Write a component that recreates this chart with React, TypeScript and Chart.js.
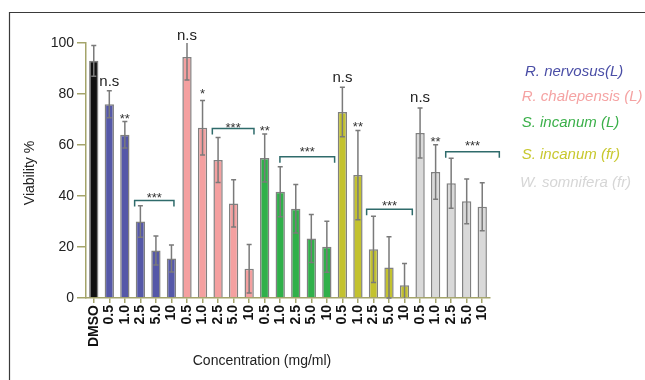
import React, { useEffect, useRef } from "react";
import { Chart, registerables } from "chart.js";

Chart.register(...registerables);

// ---------- data ----------
const concentrations = ["0.5", "1.0", "2.5", "5.0", "10"];
const categories = ["DMSO", ...concentrations, ...concentrations, ...concentrations, ...concentrations, ...concentrations];

const dmsoValue = 93;
const dmsoError = 6;
const nervosusValues = [76, 64, 30, 18.6, 15.5];
const nervosusErrors = [5.3, 5.2, 6.2, 5.7, 5.3];
const chalepensisValues = [94.5, 66.8, 54.1, 37.1, 11.5];
const chalepensisErrors = [9, 10.7, 8.8, 9.3, 9.5];
const incanumLeafValues = [54.9, 41.7, 35, 23.3, 20.1];
const incanumLeafErrors = [9.4, 9.8, 9.5, 9.4, 10];
const incanumFruitValues = [72.9, 48.2, 19.1, 12, 5];
const incanumFruitErrors = [9.7, 17.5, 13, 12, 8.5];
const somniferaValues = [64.7, 49.4, 45, 37.9, 35.8];
const somniferaErrors = [9.8, 10.7, 9.8, 8.8, 9.4];

const seriesNames = ["R. nervosus(L)", "R. chalepensis (L)", "S. incanum (L)", "S. incanum (fr)", "W. somnifera (fr)"];
const seriesColors = ["#5558a8", "#f4a0a0", "#30b04a", "#c3c22f", "#d9d9d9"];
const legendColors = ["#4a4ea6", "#f5a3a3", "#3bb04a", "#c8c82e", "#d6d6d6"];
const dmsoColor = "#111111";

const yTicksMax = 100;
const yStep = 20;

// significance labels: [label, category index, value at label centre]
const sigLabels: [string, number, number][] = [
  ["n.s", 1, 84.7],
  ["**", 2, 71.4],
  ["n.s", 6, 102.7],
  ["*", 7, 81.2],
  ["**", 11, 66.7],
  ["n.s", 16, 86.3],
  ["**", 17, 68.6],
  ["n.s", 21, 78.4],
  ["**", 22, 62.7],
];

// brackets: [from index, to index, line value, label value]
const brackets: [number, number, number, number][] = [
  [2.63, 5.16, 38.2, 40.8],
  [7.63, 10.31, 66.5, 68.2],
  [11.98, 15.5, 55.4, 58.7],
  [17.56, 20.5, 34.8, 37.6],
  [22.65, 26.1, 57.4, 60.9],
];

const values = [dmsoValue, ...nervosusValues, ...chalepensisValues, ...incanumLeafValues, ...incanumFruitValues, ...somniferaValues];
const errors = [dmsoError, ...nervosusErrors, ...chalepensisErrors, ...incanumLeafErrors, ...incanumFruitErrors, ...somniferaErrors];
const barColors = [dmsoColor, ...seriesColors.flatMap((c) => concentrations.map(() => c))];

const FONT = "'Liberation Sans', Arial, sans-serif";
const OLIVE = "#a4a46a";

const overlayPlugin = {
  id: "overlay",
  beforeDraw(chart: any) {
    const ctx = chart.ctx;
    ctx.save();
    ctx.strokeStyle = "#3a3a3a";
    ctx.lineWidth = 1.2;
    ctx.beginPath();
    ctx.moveTo(9.5, chart.height);
    ctx.lineTo(9.5, 12.5);
    ctx.lineTo(chart.width, 12.5);
    ctx.stroke();
    ctx.restore();
  },
  afterDatasetsDraw(chart: any) {
    const ctx = chart.ctx;
    const meta = chart.getDatasetMeta(0);
    const y = chart.scales.y;
    ctx.save();
    ctx.strokeStyle = "#7a7a7a";
    ctx.lineWidth = 1.5;
    meta.data.forEach((bar: any, i: number) => {
      const v = values[i];
      const e = errors[i];
      const top = y.getPixelForValue(Math.min(v + e, yTicksMax));
      const bot = y.getPixelForValue(Math.max(v - e, 0));
      const x = bar.x;
      ctx.beginPath();
      ctx.moveTo(x, top);
      ctx.lineTo(x, bot);
      if (v + e <= yTicksMax) {
        ctx.moveTo(x - 2.5, top);
        ctx.lineTo(x + 2.5, top);
      }
      if (v - e >= 0) {
        ctx.moveTo(x - 2.5, bot);
        ctx.lineTo(x + 2.5, bot);
      }
      ctx.stroke();
    });
    ctx.restore();
  },
  afterDraw(chart: any) {
    const ctx = chart.ctx;
    const x = chart.scales.x;
    const y = chart.scales.y;
    ctx.save();
    // significance labels
    sigLabels.forEach(([label, idx, val]) => {
      const px = x.getPixelForValue(idx);
      const py = y.getPixelForValue(val);
      ctx.textAlign = "center";
      ctx.textBaseline = "alphabetic";
      if (label === "n.s") {
        ctx.font = `15px ${FONT}`;
        ctx.fillStyle = "#222";
        ctx.fillText(label, px, py + 15 * 0.26);
      } else {
        ctx.font = `13px ${FONT}`;
        ctx.fillStyle = "#333";
        ctx.fillText(label, px, py + 13 * 0.58);
      }
    });
    // brackets
    ctx.strokeStyle = "#2f6b6b";
    ctx.lineWidth = 1.5;
    brackets.forEach(([from, to, lineVal, labelVal]) => {
      const x1 = x.getPixelForValue(from);
      const x2 = x.getPixelForValue(to);
      const ly = y.getPixelForValue(lineVal);
      ctx.beginPath();
      ctx.moveTo(x1, ly + 6);
      ctx.lineTo(x1, ly);
      ctx.lineTo(x2, ly);
      ctx.lineTo(x2, ly + 6);
      ctx.stroke();
      ctx.font = `13px ${FONT}`;
      ctx.fillStyle = "#333";
      ctx.textAlign = "center";
      ctx.textBaseline = "alphabetic";
      ctx.fillText("***", (x1 + x2) / 2, y.getPixelForValue(labelVal) + 13 * 0.58);
    });
    // legend
    const legendX = [525, 521.7, 521.7, 521.7, 520];
    const legendY = [71.7, 96.7, 123.3, 155, 183.3];
    ctx.font = `italic 15px ${FONT}`;
    ctx.textAlign = "left";
    ctx.textBaseline = "middle";
    seriesNames.forEach((name, i) => {
      ctx.fillStyle = legendColors[i];
      ctx.fillText(name, legendX[i], legendY[i]);
    });
    // axis titles
    ctx.fillStyle = "#222";
    ctx.font = `14px ${FONT}`;
    ctx.textAlign = "center";
    ctx.textBaseline = "middle";
    ctx.fillText("Concentration (mg/ml)", 262, 361);
    ctx.translate(30, 173);
    ctx.rotate(-Math.PI / 2);
    ctx.fillText("Viability %", 0, 0);
    ctx.restore();
  },
};

export default function App() {
  const ref = useRef<HTMLCanvasElement | null>(null);
  useEffect(() => {
    document.body.style.margin = "0";
    const chart = new Chart(ref.current as HTMLCanvasElement, {
      type: "bar",
      data: {
        labels: categories,
        datasets: [
          {
            data: values,
            backgroundColor: barColors,
            borderColor: "#808080",
            borderWidth: 1.5,
            barPercentage: 0.6,
            categoryPercentage: 1,
          },
        ],
      },
      options: {
        animation: false,
        responsive: true,
        maintainAspectRatio: false,
        layout: { padding: { left: 0, right: 155, top: 43, bottom: 0 } },
        plugins: { legend: { display: false }, tooltip: { enabled: false } },
        scales: {
          x: {
            afterFit: (s: any) => {
              s.height = 82;
            },
            grid: { display: true, drawOnChartArea: false, drawTicks: true, tickLength: 5, color: OLIVE, lineWidth: 1.5, offset: false },
            border: { display: true, color: OLIVE, width: 1.5 },
            ticks: {
              autoSkip: false,
              minRotation: 90,
              maxRotation: 90,
              padding: 2,
              color: "#111",
              font: { family: FONT, size: 14, weight: "bold" },
            },
          },
          y: {
            min: 0,
            max: yTicksMax,
            afterFit: (s: any) => {
              s.width = 86;
            },
            grid: { display: true, drawOnChartArea: false, drawTicks: true, tickLength: 9, color: OLIVE, lineWidth: 1.5 },
            border: { display: true, color: OLIVE, width: 1.5 },
            ticks: { stepSize: yStep, padding: 3, color: "#222", font: { family: FONT, size: 14 } },
          },
        },
      },
      plugins: [overlayPlugin],
    } as any);
    return () => chart.destroy();
  }, []);
  return (
    <div style={{ position: "absolute", left: 0, top: 0, width: 645, height: 380 }}>
      <canvas ref={ref} />
    </div>
  );
}
